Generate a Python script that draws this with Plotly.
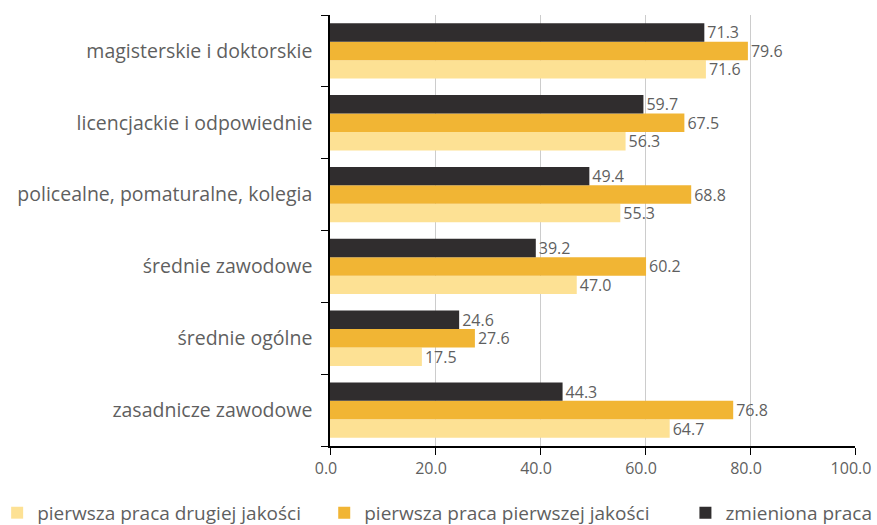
import plotly.graph_objects as go

categories = [
    "zasadnicze zawodowe",
    "średnie ogólne",
    "średnie zawodowe",
    "policealne, pomaturalne, kolegia",
    "licencjackie i odpowiednie",
    "magisterskie i doktorskie",
]
druga_jakosc = [64.7, 17.5, 47.0, 55.3, 56.3, 71.6]
pierwsza_jakosc = [76.8, 27.6, 60.2, 68.8, 67.5, 79.6]
zmieniona = [44.3, 24.6, 39.2, 49.4, 59.7, 71.3]

series = [
    ("pierwsza praca drugiej jakości", druga_jakosc, "#fde194", "legend", -0.634),
    ("pierwsza praca pierwszej jakości", pierwsza_jakosc, "#f1b534", "legend2", -0.011),
    ("zmieniona praca", zmieniona, "#302d2e", "legend3", 0.677),
]

FONT = "Open Sans"
GRAY = "#5f5f5f"

fig = go.Figure()
legends = {}
for name, vals, col, leg, lx in series:
    fig.add_trace(go.Bar(
        y=categories, x=vals, name=name, orientation="h",
        marker=dict(color=col, line=dict(width=0)),
        text=[f"{v:.1f}" for v in vals], textposition="outside",
        textfont=dict(family=FONT, size=16, color=GRAY),
        constraintext="none",
        cliponaxis=False,
        legend=leg,
    ))
    legends[leg] = dict(
        orientation="h", x=lx, xanchor="left", y=-0.155, yanchor="middle",
        font=dict(family=FONT, size=19, color=GRAY), itemwidth=30,
        bgcolor="rgba(0,0,0,0)",
    )

fig.update_layout(
    width=877, height=525,
    barmode="group", bargap=0.23, bargroupgap=0,
    plot_bgcolor="white", paper_bgcolor="white",
    margin=dict(l=330, r=22, t=15, b=79, autoexpand=False),
    font=dict(family=FONT, color=GRAY),
    showlegend=True,
    **legends,
    xaxis=dict(
        range=[0, 100], tickvals=[0, 20, 40, 60, 80, 100],
        ticktext=["0.0", "20.0", "40.0", "60.0", "80.0", "100.0"],
        showgrid=True, gridcolor="#cccccc", gridwidth=1,
        showline=True, linecolor="black", linewidth=1.5,
        ticks="outside", ticklen=7, tickcolor="black",
        tickfont=dict(family=FONT, size=16, color=GRAY),
        ticklabelshift=-4,
        zeroline=False, fixedrange=True, automargin=False,
    ),
    yaxis=dict(
        showline=True, linecolor="black", linewidth=1.5,
        ticks="outside", ticklen=7, tickcolor="black", tickson="boundaries",
        tickfont=dict(family=FONT, size=19.5, color=GRAY),
        showgrid=False, ticklabelstandoff=12, automargin=False,
    ),
)

fig.write_html(
    "out.html",
    config={"displayModeBar": False},
    post_script="document.body.style.margin='0';document.body.style.overflow='hidden';",
)
